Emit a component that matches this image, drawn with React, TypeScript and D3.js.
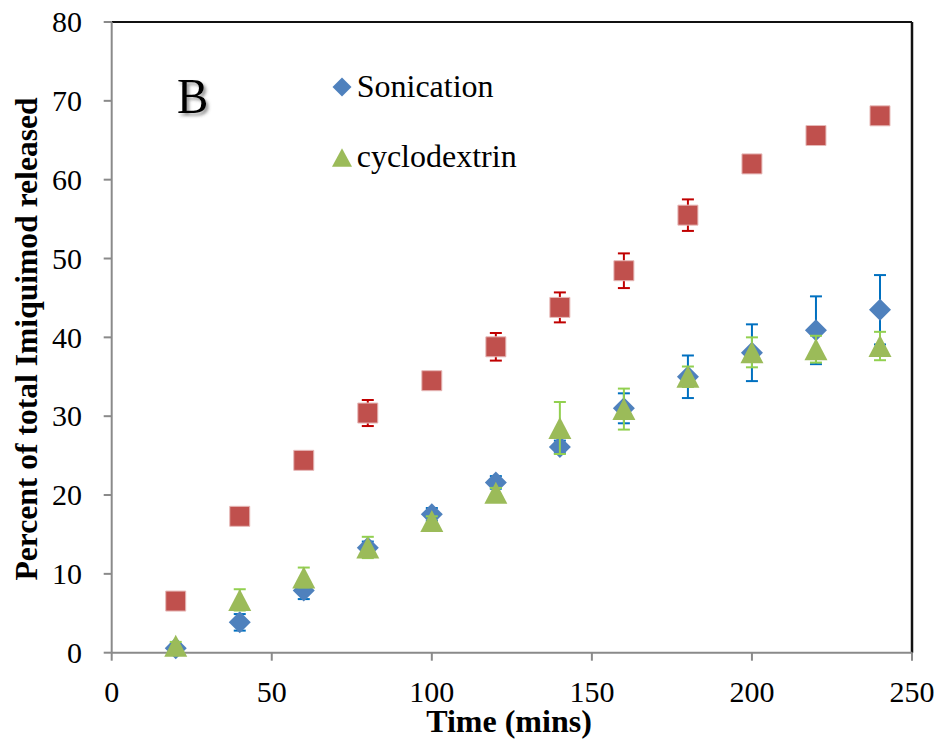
import React from "react";
import * as d3 from "d3";

const times = [20, 40, 60, 80, 100, 120, 140, 160, 180, 200, 220, 240];
const unlabeledValues = [6.55, 17.3, 24.4, 30.4, 34.5, 38.8, 43.8, 48.45, 55.5, 62.0, 65.6, 68.1];
const unlabeledErrors = [0.5, 0.6, 0.6, 1.65, 0.8, 1.75, 1.9, 2.2, 2.0, 0.5, 0.5, 0.5];
const sonicationValues = [0.55, 3.85, 7.9, 13.3, 17.55, 21.6, 26.1, 31.0, 35.0, 38.05, 40.9, 43.5];
const sonicationErrors = [0.5, 1.05, 1.1, 0.8, 0.8, 0.8, 0.8, 1.9, 2.7, 3.6, 4.3, 4.4];
const cyclodextrinValues = [0.87, 6.7, 9.55, 13.35, 16.7, 20.3, 28.5, 30.9, 35.0, 38.1, 38.5, 38.9];
const cyclodextrinErrors = [0.5, 1.35, 1.25, 1.35, 0.6, 0.6, 3.3, 2.6, 1.3, 1.9, 1.7, 1.8];
const xTicks = [0, 50, 100, 150, 200, 250];
const yTicks = [0, 10, 20, 30, 40, 50, 60, 70, 80];
const legendLabels = ["Sonication", "cyclodextrin"];

const W = 941;
const H = 751;
const L = 111.7, R = 912, T = 22, B = 652.7;
const FONT = "'Liberation Serif', 'Times New Roman', serif";

export default function App() {
  const x = d3.scaleLinear().domain([0, 250]).range([L, R]);
  const y = d3.scaleLinear().domain([0, 80]).range([B, T]);

  const square = (cx: number, cy: number, s: number) =>
    `M${cx - s / 2},${cy - s / 2}h${s}v${s}h${-s}Z`;
  const diamond = (cx: number, cy: number, s: number) =>
    `M${cx},${cy - s / 2}L${cx + s / 2},${cy}L${cx},${cy + s / 2}L${cx - s / 2},${cy}Z`;
  const triangle = (cx: number, cy: number, w: number, h: number) =>
    `M${cx},${cy - h / 2}L${cx + w / 2},${cy + h / 2}L${cx - w / 2},${cy + h / 2}Z`;

  const errBars = (vals: number[], errs: number[], color: string, key: string) =>
    vals.map((v, i) => {
      const cx = x(times[i]);
      const y1 = y(v + errs[i]);
      const y2 = y(v - errs[i]);
      return (
        <g key={key + i} stroke={color} strokeWidth={2}>
          <line x1={cx} x2={cx} y1={y1} y2={y2} />
          <line x1={cx - 6} x2={cx + 6} y1={y1} y2={y1} />
          <line x1={cx - 6} x2={cx + 6} y1={y2} y2={y2} />
        </g>
      );
    });

  return (
    <svg width={W} height={H} style={{ position: "absolute", left: 0, top: 0, background: "#fff" }}>
      <defs>
        <filter id="shadow" x="-30%" y="-30%" width="160%" height="160%">
          <feDropShadow dx="2.5" dy="2.5" stdDeviation="1.6" floodColor="#444" floodOpacity="0.55" />
        </filter>
      </defs>
      <rect width={W} height={H} fill="#fff" />

      {/* plot border (top/right) */}
      <line x1={L} x2={R} y1={T} y2={T} stroke="#111" strokeWidth={2} />
      <line x1={R} x2={R} y1={T} y2={B} stroke="#111" strokeWidth={2.5} />

      {/* y axis */}
      <line x1={L} x2={L} y1={T} y2={B} stroke="#8a8a8a" strokeWidth={2} />
      {yTicks.map((t) => (
        <g key={"yt" + t}>
          <line x1={L - 8} x2={L} y1={y(t)} y2={y(t)} stroke="#8a8a8a" strokeWidth={2} />
          <text x={82} y={y(t)} dy="0.34em" textAnchor="end" fontFamily={FONT} fontSize={30} fill="#000">
            {t}
          </text>
        </g>
      ))}

      {/* x axis */}
      <line x1={L} x2={R} y1={B} y2={B} stroke="#8a8a8a" strokeWidth={2} />
      {xTicks.map((t) => (
        <g key={"xt" + t}>
          <line x1={x(t)} x2={x(t)} y1={B} y2={B + 8} stroke="#8a8a8a" strokeWidth={2} />
          <text x={x(t)} y={702} textAnchor="middle" fontFamily={FONT} fontSize={30} fill="#000">
            {t}
          </text>
        </g>
      ))}

      {/* axis titles */}
      <text x={509} y={732} textAnchor="middle" fontFamily={FONT} fontSize={32} fontWeight="bold" fill="#000">
        Time (mins)
      </text>
      <text
        transform={`translate(37,339) rotate(-90)`}
        textAnchor="middle"
        fontFamily={FONT}
        fontSize={31.6}
        fontWeight="bold"
        fill="#000"
      >
        Percent of total Imiquimod released
      </text>

      {/* panel letter */}
      <g transform="translate(177,113) scale(1,1.1)">
        <text x={0} y={0} fontFamily={FONT} fontSize={47} fill="#000" filter="url(#shadow)">
          B
        </text>
      </g>

      {/* legend */}
      <path d={diamond(342, 87, 19)} fill="#4F81BD" />
      <text x={356.7} y={97} fontFamily={FONT} fontSize={32} fill="#000">
        {legendLabels[0]}
      </text>
      <path d={triangle(342, 157.5, 20, 18.5)} fill="#9BBB59" />
      <text x={356.7} y={167} fontFamily={FONT} fontSize={32} fill="#000">
        {legendLabels[1]}
      </text>

      {/* unlabeled (red) series */}
      {errBars(unlabeledValues, unlabeledErrors, "#C00000", "re")}
      {unlabeledValues.map((v, i) => (
        <path key={"rm" + i} d={square(x(times[i]), y(v), 20)} fill="#C0504D" stroke="#E6B9B8" strokeWidth={1} />
      ))}

      {/* sonication */}
      {errBars(sonicationValues, sonicationErrors, "#0070C0", "be")}
      {sonicationValues.map((v, i) => (
        <path key={"bm" + i} d={diamond(x(times[i]), y(v), 22)} fill="#4F81BD" />
      ))}

      {/* cyclodextrin */}
      {errBars(cyclodextrinValues, cyclodextrinErrors, "#92D050", "ge")}
      {cyclodextrinValues.map((v, i) => (
        <path key={"gm" + i} d={triangle(x(times[i]), y(v), 23, 22)} fill="#9BBB59" />
      ))}
    </svg>
  );
}
